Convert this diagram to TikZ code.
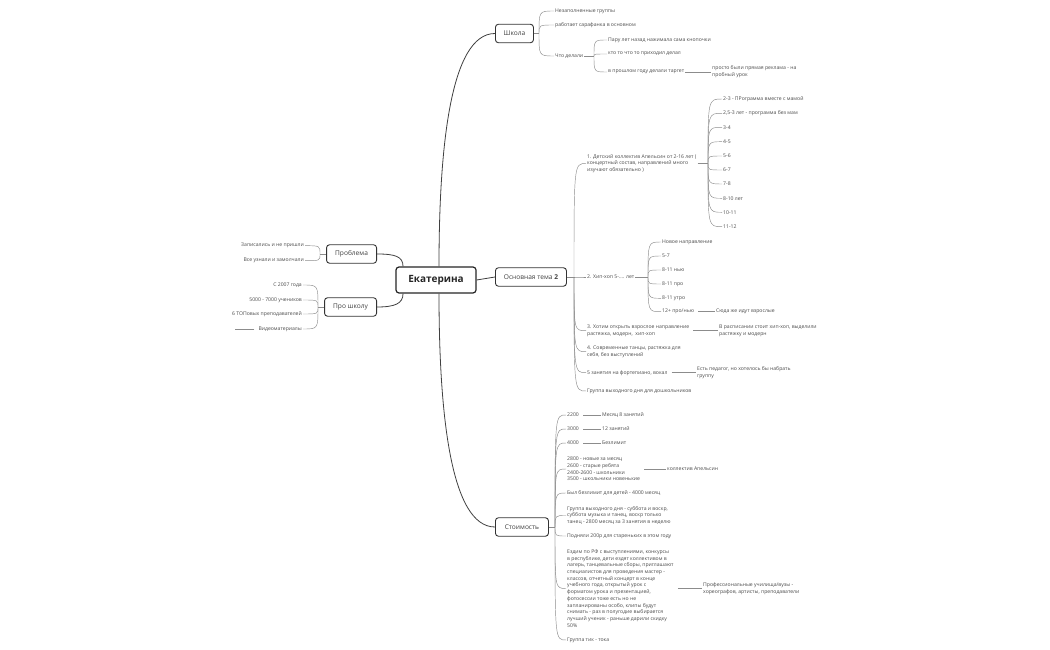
\documentclass[tikz,border=0pt]{standalone}
\usepackage{fontspec}
\setmainfont{Open Sans}
\begin{document}
\begin{tikzpicture}[x=1pt,y=-1pt,
  topic/.style={draw=black!80, line width=0.9pt, rounded corners=3pt, fill=white,
    font=\fontsize{6.6}{8}\selectfont, text=black!75, minimum height=18.5pt, inner sep=0pt, anchor=west},
  central/.style={draw=black!85, line width=1.2pt, rounded corners=3pt, fill=white,
    font=\fontsize{10}{12}\selectfont\bfseries, text=black!85, minimum width=80pt, minimum height=26pt, inner sep=0pt},
  sub/.style={font=\fontsize{5.1}{6.7}\selectfont, text=black!70, inner sep=1pt, align=left, anchor=west},
  subl/.style={sub, anchor=east, align=right},
  mainline/.style={draw=black!75, line width=0.8pt},
  subline/.style={draw=black!45, line width=0.45pt}
]
\fill[white] (0,0) rectangle (1050,650);
\useasboundingbox (0,0) rectangle (1050,650);

% ---------- top level ----------
\node[central] (c) at (436,280) {Екатерина};
\node[topic, minimum width=38pt] (school) at (495,33.5) {Школа};
\node[topic, minimum width=71pt] (main) at (495,277) {Основная тема \textbf{2}};
\node[topic, minimum width=53pt] (cost) at (495,527) {Стоимость};
\node[topic, minimum width=50pt, anchor=east] (prob) at (377,254) {Проблема};
\node[topic, minimum width=52pt, anchor=east] (about) at (377,307) {Про школу};

\draw[mainline] ([xshift=3]c.north) .. controls +(0,-117) and +(-45,0) .. (school.west);
\draw[mainline] ([xshift=3]c.south) .. controls +(0,117) and +(-45,0) .. (cost.west);
\draw[mainline] (c.east) -- (main.west);
\draw[mainline] (prob.east) .. controls +(18,0) and +(0,-10) .. ([xshift=-33]c.north);
\draw[mainline] (about.east) .. controls +(18,0) and +(0,10) .. ([xshift=-33]c.south);

% ---------- Школа ----------
\node[sub] (s1) at (554,11) {Незаполненные группы};
\node[sub] (s2) at (554,25) {работает сарафанка в основном};
\node[sub] (s3) at (554,56) {Что делали};
\node[sub] (s31) at (607,40) {Пару лет назад нажимала сама кнопочки};
\node[sub] (s32) at (607,54) {кто то что то приходил делал};
\node[sub] (s33) at (607,72) {в прошлом году делали таргет};
\node[sub] (s331) at (711,71.7) {просто были прямая реклама - на\\пробный урок};

\coordinate (js) at (539,33.5);
\draw[subline] (school.east) -- (js);
\foreach \n in {s1,s2,s3} \draw[subline] (js) .. controls (js |- \n.west) .. (\n.west);
\coordinate (js3) at (594,56);
\draw[subline] (s3.east) -- (js3);
\foreach \n in {s31,s32,s33} \draw[subline] (js3) .. controls (js3 |- \n.west) .. (\n.west);
\draw[subline] (s33.east) -- (s331.west |- s33.east);

% ---------- Основная тема 2 ----------
\node[sub] (m1) at (586,163.5) {1. Детский коллектив Апельсин от 2-16 лет (\\концертный состав, направлений много\\изучают обязательно )};
\node[sub] (m2) at (586,277) {2. Хип-хоп 5-.... лет};
\node[sub] (m3) at (586,330.7) {3. Хотим открыть взрослое направление\\растяжка, модерн,\ \ хип-хоп};
\node[sub] (m4) at (586,351.7) {4. Современные танцы, растяжка для\\себя, без выступлений};
\node[sub] (m5) at (586,372.7) {5 занятия на фортепиано, вокал};
\node[sub] (m6) at (586,391) {Группа выходного дня для дошкольников};

\coordinate (jm) at (574,277);
\draw[subline] (main.east) -- (jm);
\foreach \n in {m1,m2,m3,m4,m5,m6} \draw[subline] (jm) .. controls (jm |- \n.west) .. (\n.west);

% Апельсин ages
\node[sub] (a1) at (722,99) {2-3 - ПРограмма вместе с мамой};
\node[sub] (a2) at (722,113.3) {2,5-3 лет - программа без мам};
\node[sub] (a3) at (722,127.3) {3-4};
\node[sub] (a4) at (722,141.7) {4-5};
\node[sub] (a5) at (722,156) {5-6};
\node[sub] (a6) at (722,170) {6-7};
\node[sub] (a7) at (722,184) {7-8};
\node[sub] (a8) at (722,198.3) {8-10 лет};
\node[sub] (a9) at (722,212.3) {10-11};
\node[sub] (a10) at (722,226.7) {11-12};
\coordinate (ja) at (708,163.5);
\draw[subline] (m1.east |- ja) -- (ja);
\foreach \n in {a1,a2,a3,a4,a5,a6,a7,a8,a9,a10} \draw[subline] (ja) .. controls (ja |- \n.west) .. (\n.west);

% Хип-хоп groups
\node[sub] (h1) at (661,242) {Новое направление};
\node[sub] (h2) at (661,256) {5-7};
\node[sub] (h3) at (661,270) {8-11 нью};
\node[sub] (h4) at (661,284) {8-11 про};
\node[sub] (h5) at (661,298.3) {8-11 утро};
\node[sub] (h6) at (661,311.7) {12+ про/нью};
\node[sub] (h61) at (715,311.7) {Сюда же идут взрослые};
\coordinate (jh) at (648,277);
\draw[subline] (m2.east) -- (jh);
\foreach \n in {h1,h2,h3,h4,h5,h6} \draw[subline] (jh) .. controls (jh |- \n.west) .. (\n.west);
\draw[subline] ([xshift=3]h6.east) -- (h61.west);

\node[sub] (m31) at (718,330.7) {В расписании стоит хип-хоп, выделили\\растяжку и модерн};
\draw[subline] ([xshift=3]m3.east) -- (m31.west);
\node[sub] (m51) at (696,372.7) {Есть педагог, но хотелось бы набрать\\группу};
\draw[subline] ([xshift=3]m5.east) -- (m51.west);

% ---------- Стоимость ----------
\node[sub] (c1) at (566,415) {2200};
\node[sub] (c2) at (566,429) {3000};
\node[sub] (c3) at (566,443) {4000};
\node[sub] (c4) at (566,469) {2800 - новые за месяц\\2600 - старые ребята\\2400-2600 - школьники\\3500 - школьники новенькие};
\node[sub] (c5) at (566,493) {Был безлимит для детей - 4000 месяц};
\node[sub] (c6) at (566,515.5) {Группа выходного дня - суббота и воскр,\\суббота музыка и танец, воскр только\\танец - 2800 месяц за 3 занятия в неделю};
\node[sub] (c7) at (566,536) {Подняли 200р для стареньких в этом году};
\node[sub] (c8) at (566,588.5) {Ездим по РФ с выступлениями, конкурсы\\в республике, дети ездят коллективом в\\лагерь, танцевальные сборы, приглашают\\специалистов для проведения мастер -\\классов, отчетный концерт в конце\\учебного года, открытый урок с\\форматом урока и презентацией,\\фотосессии тоже есть но не\\запланированы особо, клипы будут\\снимать - раз в полугодие выбирается\\лучший ученик - раньше дарили скидку\\50\%};
\node[sub] (c9) at (566,640) {Группа тик - тока};

\coordinate (jc) at (555,527);
\draw[subline] (cost.east) -- (jc);
\foreach \n in {c1,c2,c3,c4,c5,c6,c7,c8,c9} \draw[subline] (jc) .. controls (jc |- \n.west) .. (\n.west);

\node[sub] (c11) at (601,415) {Месяц 8 занятий};
\node[sub] (c21) at (601,429) {12 занятий};
\node[sub] (c31) at (601,443) {Безлимит};
\node[sub] (c41) at (666,469) {коллектив Апельсин};
\node[sub] (c81) at (702,588.5) {Профессиональные училища/вузы -\\хореографов, артисты, преподаватели};
\draw[subline] ([xshift=3]c1.east) -- (c11.west);
\draw[subline] ([xshift=3]c2.east) -- (c21.west);
\draw[subline] ([xshift=3]c3.east) -- (c31.west);
\draw[subline] ([xshift=3]c4.east) -- (c41.west);
\draw[subline] ([xshift=3]c8.east) -- (c81.west);

% ---------- left side ----------
\node[subl] (p1) at (305,245.7) {Записались и не пришли};
\node[subl] (p2) at (305,260.7) {Все узнали и замолчали};
\coordinate (jp) at (320,254);
\draw[subline] (prob.west) -- (jp);
\foreach \n in {p1,p2} \draw[subline] (jp) .. controls (jp |- \n.east) .. (\n.east);

\node[subl] (q1) at (303,285) {С 2007 года};
\node[subl] (q2) at (303,300) {5000 - 7000 учеников};
\node[subl] (q3) at (303,314) {6 ТОПовых преподавателей};
\node[subl] (q4) at (303,329) {Видеоматериалы};
\coordinate (jq) at (318,307);
\draw[subline] (about.west) -- (jq);
\foreach \n in {q1,q2,q3,q4} \draw[subline] (jq) .. controls (jq |- \n.east) .. (\n.east);
\coordinate (qx) at (235,329);
\draw[subline] ([xshift=-3]q4.west) -- (qx);

\end{tikzpicture}
\end{document}
